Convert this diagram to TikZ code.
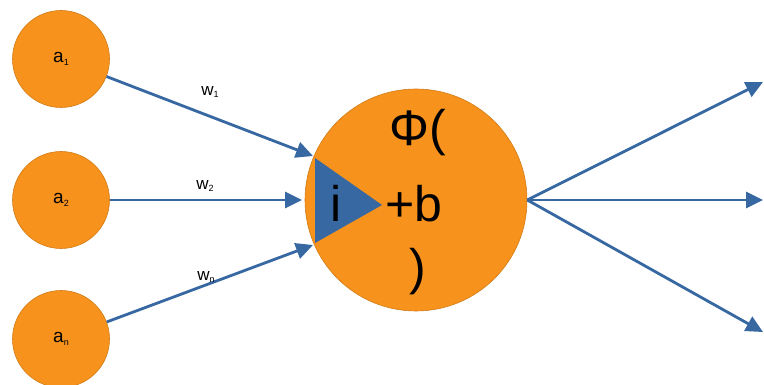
\documentclass[tikz,border=0pt]{standalone}
\usepackage{fontspec}
\setmainfont{Liberation Sans}
\usetikzlibrary{arrows.meta}
\definecolor{neuron}{RGB}{247,146,28}
\definecolor{wire}{RGB}{55,104,162}
\newcommand{\tinysub}[1]{\raisebox{-0.25ex}{\fontsize{9}{10}\selectfont #1}}
\tikzset{
  inneuron/.style={circle,fill=neuron,draw=neuron!85!black,line width=0.6pt,minimum size=97pt,inner sep=0pt,font=\fontsize{19}{21}\selectfont},
  bigneuron/.style={circle,fill=neuron,draw=neuron!85!black,line width=0.6pt,minimum size=222pt,inner sep=0pt},
  link/.style={draw=wire,line width=2.8pt,-{Triangle[length=17pt,width=16pt]}},
  wlabel/.style={font=\fontsize{17}{19}\selectfont,inner sep=0pt},
  bigtext/.style={font=\fontsize{50}{54}\selectfont,inner sep=0pt}
}
\begin{document}
\begin{tikzpicture}[x=1pt,y=-1pt]
\useasboundingbox (0,0) rectangle (764,385);
\fill[white] (0,0) rectangle (764,385);
\node[inneuron] (a1) at (61,59) {a\tinysub{1}};
\node[inneuron] (a2) at (61,200) {a\tinysub{2}};
\node[inneuron] (an) at (61,339) {a\tinysub{n}};
\node[bigneuron] (n) at (416,200) {};
\coordinate (t1) at (315,158);
\coordinate (t2) at (315,243);
\coordinate (t3) at (382,205);
\fill[wire] (t1) -- (t3) -- (t2) -- cycle;
\node[bigtext] (phi) at (418,133) {Φ(};
\node[bigtext] (i) at (336,203) {i};
\node[bigtext] (pb) at (414,204) {+\kern-1pt b};
\node[bigtext] (cp) at (418,272) {)};
\coordinate (e1) at (313,156);
\coordinate (e2) at (302,200);
\coordinate (e3) at (313,245);
\draw[link] (a1) -- (e1);
\draw[link] (a2) -- (e2);
\draw[link] (an) -- (e3);
\node[wlabel] (w1) at (210,92) {w\tinysub{1}};
\node[wlabel] (w2) at (205,186) {w\tinysub{2}};
\node[wlabel] (wn) at (206,277) {w\tinysub{n}};
\coordinate (o1) at (763,82);
\coordinate (o2) at (763,200);
\coordinate (o3) at (763,332);
\draw[link] (n.east) -- (o1);
\draw[link] (n.east) -- (o2);
\draw[link] (n.east) -- (o3);
\end{tikzpicture}
\end{document}
